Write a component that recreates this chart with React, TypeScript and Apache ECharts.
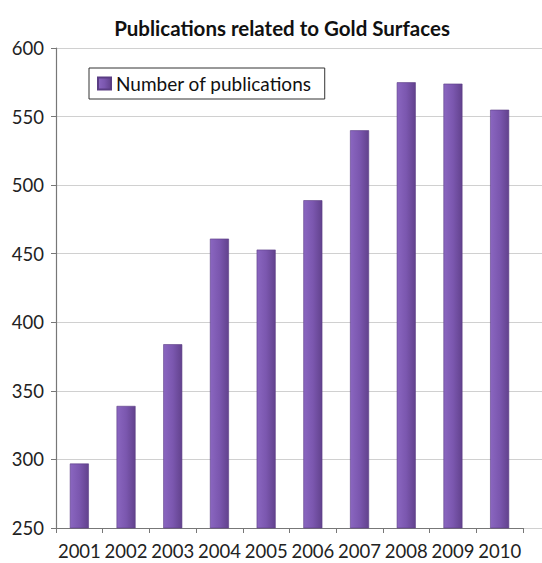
import React, { useEffect, useRef } from "react";
import * as echarts from "echarts";

const years = ["2001", "2002", "2003", "2004", "2005", "2006", "2007", "2008", "2009", "2010"];
const publications = [297, 339, 384, 461, 453, 489, 540, 575, 574, 555];
const yMin = 250;
const yMax = 600;
const yStep = 50;
const titleText = "Publications related to Gold Surfaces";
const seriesName = "Number of publications";

const FONT = "Lato, 'Open Sans', sans-serif";

export default function App() {
  const ref = useRef<HTMLDivElement>(null);
  useEffect(() => {
    if (!ref.current) return;
    const chart = echarts.init(ref.current, undefined, { renderer: "svg" });
    const barColor = new echarts.graphic.LinearGradient(0, 0, 1, 0, [
      { offset: 0, color: "#8a66c0" },
      { offset: 0.5, color: "#7b57af" },
      { offset: 1, color: "#62428d" },
    ]);
    chart.setOption({
      animation: false,
      backgroundColor: "#ffffff",
      title: {
        text: titleText,
        left: 277,
        textAlign: "center",
        top: 12,
        textStyle: { fontFamily: FONT, fontSize: 20.5, fontWeight: "bold", color: "#111" },
      },
      legend: {
        data: [{ name: seriesName, icon: "rect" }],
        left: 89,
        top: 68,
        orient: "horizontal",
        itemWidth: 13,
        itemHeight: 12,
        itemGap: 5,
        padding: [6, 13, 6, 8],
        borderColor: "#333",
        borderWidth: 1,
        backgroundColor: "#fff",
        textStyle: { fontFamily: FONT, fontSize: 19, color: "#111" },
      },
      grid: [
        { left: 56, right: 19, top: 48, bottom: 35, containLabel: false },
        { left: 56, right: 0, top: 48, bottom: 35, containLabel: false },
      ],
      xAxis: [
        {
          type: "category",
          gridIndex: 0,
          data: years,
          axisLine: { lineStyle: { color: "#777", width: 1.2 } },
          axisTick: { show: true, length: 5, lineStyle: { color: "#777" } },
          axisLabel: {
            fontFamily: FONT,
            fontSize: 18.5,
            color: "#222",
            margin: 13,
            interval: 0,
            hideOverlap: false,
          },
        },
        {
          type: "value",
          gridIndex: 1,
          show: false,
        },
      ],
      yAxis: [
        {
          type: "value",
          gridIndex: 0,
          min: yMin,
          max: yMax,
          interval: yStep,
          axisLine: { show: true, lineStyle: { color: "#777", width: 1.2 } },
          axisTick: { show: true, length: 5, lineStyle: { color: "#777" } },
          axisLabel: { fontFamily: FONT, fontSize: 18.5, color: "#222", margin: 12 },
          splitLine: { show: false },
        },
        {
          type: "value",
          gridIndex: 1,
          min: yMin,
          max: yMax,
          interval: yStep,
          axisLine: { show: false },
          axisTick: { show: false },
          axisLabel: { show: false },
          splitLine: { show: true, lineStyle: { color: "#d0d0d0", width: 1.2 } },
        },
      ],
      series: [
        {
          name: seriesName,
          type: "bar",
          xAxisIndex: 0,
          yAxisIndex: 0,
          data: publications,
          barWidth: 19,
          itemStyle: {
            color: barColor,
            borderColor: "#5a3d84",
            borderWidth: 0.6,
          },
        },
      ],
    });
    return () => chart.dispose();
  }, []);
  return (
    <div
      ref={ref}
      style={{ position: "fixed", left: 0, top: 0, width: 542, height: 563 }}
    />
  );
}
